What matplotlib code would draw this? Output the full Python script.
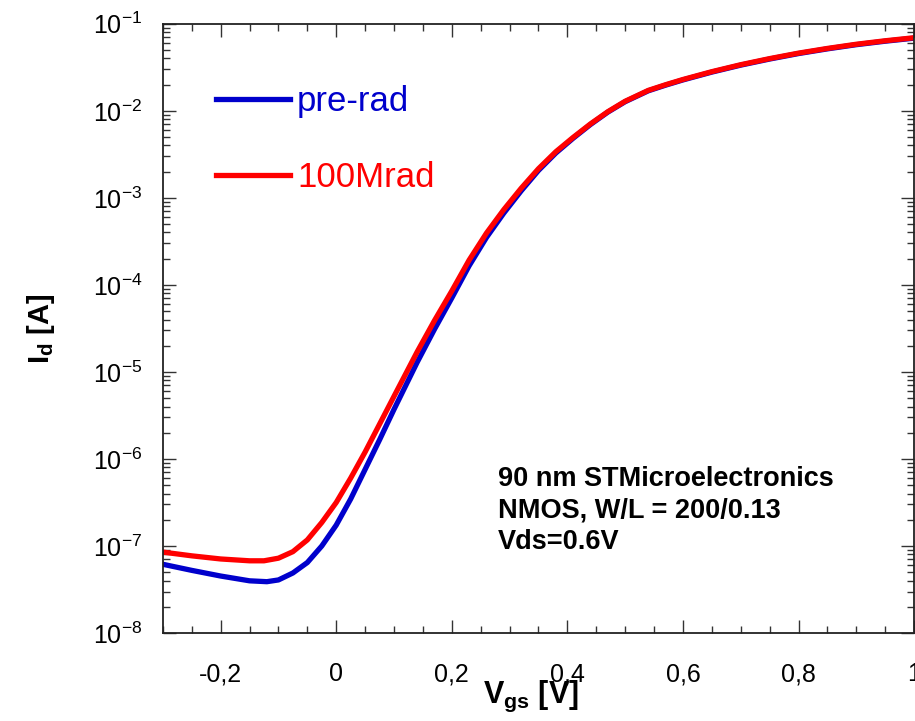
import numpy as np
import matplotlib.pyplot as plt
from matplotlib.ticker import MultipleLocator, LogLocator, FuncFormatter, NullFormatter

plt.rcParams['font.family'] = 'Liberation Sans'
plt.rcParams['mathtext.fontset'] = 'custom'
plt.rcParams['mathtext.rm'] = 'Liberation Sans'
plt.rcParams['mathtext.it'] = 'Liberation Sans:italic'
plt.rcParams['mathtext.bf'] = 'Liberation Sans:bold'

# transfer characteristic, Id given as log10(A)
vgs_pre = [-0.30, -0.25, -0.20, -0.15, -0.12, -0.10, -0.075, -0.05, -0.025, 0.00,
           0.025, 0.05, 0.075, 0.10, 0.14, 0.17, 0.20, 0.23, 0.26, 0.29, 0.32,
           0.35, 0.38, 0.41, 0.44, 0.47, 0.50, 0.54, 0.57, 0.60, 0.65, 0.70,
           0.75, 0.80, 0.85, 0.90, 0.95, 1.00]
logid_pre = [-7.21, -7.28, -7.345, -7.40, -7.41, -7.39, -7.31, -7.19, -7.00, -6.76,
             -6.46, -6.12, -5.78, -5.43, -4.89, -4.51, -4.15, -3.78, -3.455, -3.175, -2.92,
             -2.685, -2.485, -2.315, -2.157, -2.015, -1.895, -1.77, -1.705, -1.645, -1.555, -1.475,
             -1.405, -1.342, -1.288, -1.24, -1.2, -1.165]

vgs_rad = [-0.30, -0.25, -0.20, -0.15, -0.125, -0.10, -0.075, -0.05, -0.025, 0.00,
           0.025, 0.05, 0.075, 0.10, 0.14, 0.17, 0.20, 0.23, 0.26, 0.29, 0.32,
           0.35, 0.38, 0.41, 0.44, 0.47, 0.50, 0.54, 0.57, 0.60, 0.65, 0.70,
           0.75, 0.80, 0.85, 0.90, 0.95, 1.00]
logid_rad = [-7.07, -7.113, -7.149, -7.17, -7.17, -7.14, -7.065, -6.93, -6.73, -6.50,
             -6.22, -5.92, -5.60, -5.28, -4.77, -4.41, -4.07, -3.715, -3.405, -3.135, -2.89,
             -2.665, -2.47, -2.305, -2.15, -2.01, -1.89, -1.765, -1.70, -1.64, -1.55, -1.47,
             -1.40, -1.337, -1.283, -1.235, -1.195, -1.16]

xticks = [-0.2, 0.0, 0.2, 0.4, 0.6, 0.8, 1.0]
xtick_labels = ['-0,2', '0', '0,2', '0,4', '0,6', '0,8', '1']

fig = plt.figure(figsize=(9.15, 7.21), dpi=100)
ax = fig.add_axes([0.178, 0.122, 0.821, 0.845])

ax.plot(vgs_pre, 10 ** np.array(logid_pre), color='#0000cc', lw=3.8, label='pre-rad')
ax.plot(vgs_rad, 10 ** np.array(logid_rad), color='#ff0000', lw=3.8, label='100Mrad')

ax.set_yscale('log')
ax.set_xlim(-0.3, 1.0)
ax.set_ylim(1e-8, 1e-1)

ax.set_xticks(xticks)
ax.set_xticklabels(xtick_labels)
ax.xaxis.set_minor_locator(MultipleLocator(0.05))
ax.yaxis.set_major_locator(LogLocator(base=10, numticks=20))
ax.yaxis.set_minor_locator(LogLocator(base=10, subs=np.arange(2, 10), numticks=20))
ax.yaxis.set_minor_formatter(NullFormatter())
ax.yaxis.set_major_formatter(FuncFormatter(lambda v, p: r'$10^{%d}$' % round(np.log10(v))))

ax.tick_params(which='both', direction='in', top=True, right=True, width=1.0, color='#333333')
ax.tick_params(which='major', length=9.5)
ax.tick_params(which='minor', length=5)
ax.tick_params(axis='x', which='major', labelsize=18, pad=21)
ax.tick_params(axis='y', which='major', labelsize=18, pad=15)
for s in ax.spines.values():
    s.set_linewidth(1.3)
    s.set_color('#222222')

ax.set_xlabel(r'$\mathbf{V_{gs}}$ [V]', fontsize=22, fontweight='bold')
ax.xaxis.set_label_coords(0.49, -0.075)
ax.xaxis.label.set_va('top')
ax.set_ylabel(r'$\mathbf{I_d}$ [A]', fontsize=21, fontweight='bold')
ax.yaxis.set_label_coords(-0.141, 0.5)

ax.legend(loc='upper left', bbox_to_anchor=(0.071, 0.900), frameon=False,
          fontsize=25, labelcolor='linecolor', handlelength=2.13, handletextpad=0.2,
          labelspacing=1.25, borderpad=0, borderaxespad=0)

ax.text(0.446, 0.274, '90 nm STMicroelectronics\nNMOS, W/L = 200/0.13\nVds=0.6V',
        transform=ax.transAxes, fontsize=19.5, fontweight='bold', va='top', ha='left',
        linespacing=1.28)

fig.savefig('out.png', dpi=100)
